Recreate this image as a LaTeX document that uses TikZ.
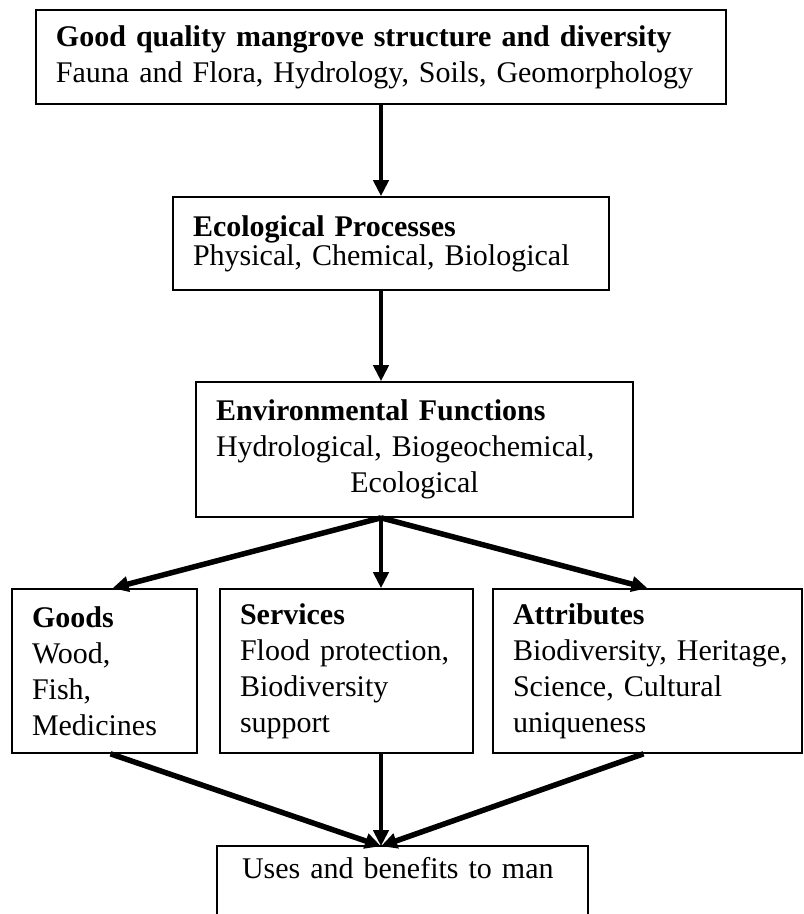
\documentclass[tikz,border=0pt]{standalone}
\usepackage{fontspec}
\setmainfont{Liberation Serif}
\hyphenpenalty=10000
\exhyphenpenalty=10000
\usetikzlibrary{%
  arrows.meta,%
  calc%
}
\tikzset{
  blk/.style={draw,line width=1.6pt,rectangle,inner xsep=20pt,inner ysep=0pt,
    align=left,font=\fontsize{30}{36}\selectfont},
  arr/.style={line width=4pt,-{Triangle[length=16pt,width=15pt]}},
  slant/.style={arr,line width=5.5pt}
}

\begin{document}
\begin{tikzpicture}[x=1pt,y=-1pt]
  \useasboundingbox (0,0) rectangle (804,914);
  % boxes
  \node[blk,minimum width=690pt,minimum height=94pt,text width=650pt] (good) at (381,57)
    {\textbf{Good quality mangrove structure and diversity}\\
     Fauna and Flora, Hydrology, Soils, Geomorphology};
  \node[blk,minimum width=436pt,minimum height=93pt,text width=396pt] (proc) at (391,243.5)
    {\textbf{Ecological Processes}\\[-7pt]
     Physical, Chemical, Biological};
  \node[blk,minimum width=437pt,minimum height=135pt,text width=397pt] (func) at (414.5,449.5)
    {\textbf{Environmental Functions}\\
     Hydrological, Biogeochemical,\\
     \hbox to\hsize{\hfil Ecological\hfil}};
  \node[blk,minimum width=185pt,minimum height=164pt,text width=145pt] (goods) at (104.5,671)
    {\textbf{Goods}\\ Wood,\\ Fish,\\ Medicines};
  \node[blk,minimum width=253pt,minimum height=164pt,text width=213pt] (serv) at (346.5,671)
    {\textbf{Services}\\ \mbox{Flood protection,}\\ Biodiversity\\ support};
  \node[blk,minimum width=309pt,minimum height=164pt,text width=269pt] (attr) at (647.5,671)
    {\textbf{Attributes}\\ \mbox{Biodiversity, Heritage,}\\ Science, Cultural\\ uniqueness};
  \node[blk,draw=none,minimum width=369pt,minimum height=67pt,text width=321pt,
    inner xsep=24pt,text depth=26pt] (uses) at (402.5,880.5)
    {Uses and benefits to man};
  \draw[line width=1.6pt] (uses.south west) -- (uses.north west)
    -- (uses.north east) -- (uses.south east);
  % arrows
  \coordinate (hub) at (good.south |- func.south);
  \coordinate (sink) at (hub |- uses.north);
  \draw[arr] (good.south) -- (good.south |- proc.north);
  \draw[arr] (good.south |- proc.south) -- (good.south |- func.north);
  \draw[slant] (hub) -- ($(goods.north)+(8,0)$);
  \draw[arr] (hub) -- (hub |- serv.north);
  \draw[slant] (hub) -- (attr.north);
  \draw[slant] ($(goods.south)+(6,0)$) -- (sink);
  \draw[arr] (hub |- serv.south) -- (sink);
  \draw[slant] ($(attr.south)+(-4,0)$) -- (sink);
\end{tikzpicture}
\end{document}
